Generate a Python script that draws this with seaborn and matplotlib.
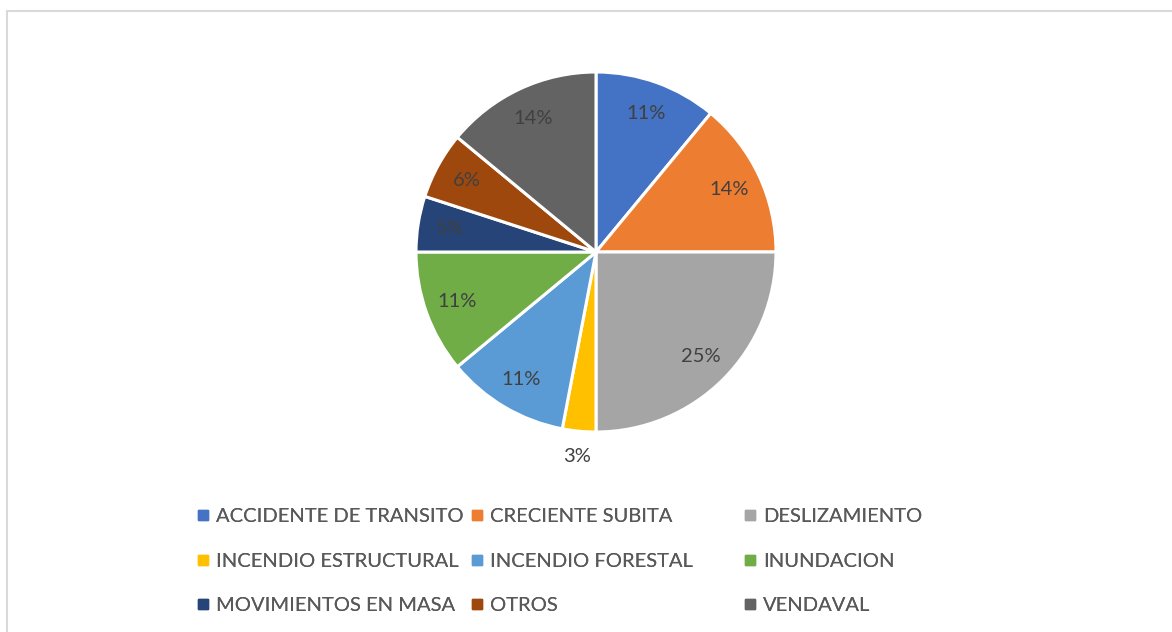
import matplotlib
matplotlib.use("Agg")
import matplotlib.pyplot as plt
import seaborn as sns
import numpy as np
from matplotlib.lines import Line2D
from matplotlib.patches import Rectangle

# Data (percent shares, clockwise from 12 o'clock)
categories = ["ACCIDENTE DE TRANSITO", "CRECIENTE SUBITA", "DESLIZAMIENTO",
              "INCENDIO ESTRUCTURAL", "INCENDIO FORESTAL", "INUNDACION",
              "MOVIMIENTOS EN MASA", "OTROS", "VENDAVAL"]
shares = [11, 14, 25, 3, 11, 11, 5, 6, 14]
colors = ["#4472C4", "#ED7D31", "#A5A5A5", "#FFC000", "#5B9BD5",
          "#70AD47", "#264478", "#9E480E", "#636363"]

sns.set_theme(style="white")
plt.rcParams['font.family'] = ['Lato', 'DejaVu Sans']
palette = sns.color_palette(colors)

W, H = 1172, 632
fig = plt.figure(figsize=(W / 100, H / 100), dpi=100)

# chart frame (only left and top visible in the crop)
fig.patches.append(Rectangle((6.5 / W, -0.1), 1.2, (H - 10.5) / H + 0.1,
                             transform=fig.transFigure, fill=False,
                             edgecolor="#D9D9D9", linewidth=1.5))

# pie axes: center (596, 252), radius 180 px
cx, cy, r = 596, 252, 180
ax = fig.add_axes([(cx - r) / W, (H - cy - r) / H, 2 * r / W, 2 * r / H])
wedges, texts, autotexts = ax.pie(
    shares, colors=palette, startangle=90, counterclock=False,
    autopct="%1.0f%%", pctdistance=0.82, radius=1,
    wedgeprops=dict(edgecolor="white", linewidth=2.2),
    textprops=dict(color="#404040", fontsize=14.5))
ax.set_xlim(-1, 1)
ax.set_ylim(-1, 1)
ax.set_aspect("equal")

# move labels of tiny slices outside the pie
for w, t, v in zip(wedges, autotexts, shares):
    if v < 4:
        ang = np.deg2rad((w.theta1 + w.theta2) / 2)
        t.set_position((1.14 * np.cos(ang), 1.14 * np.sin(ang)))

# legend: three equal-width columns, filled row by row
handles = [Line2D([], [], marker="s", linestyle="none", markersize=6.5,
                  markerfacecolor=c, markeredgecolor=c) for c in colors]
col_x = [196, 470, 743]
for j in range(3):
    idx = [j, j + 3, j + 6]
    leg = fig.legend([handles[i] for i in idx], [categories[i] for i in idx],
                     loc="upper left", bbox_to_anchor=(col_x[j] / W, (H - 508) / H),
                     frameon=False, fontsize=14.5, labelcolor="#595959",
                     handlelength=0.7, handletextpad=0.3, labelspacing=1.37,
                     borderpad=0, borderaxespad=0)
    fig.add_artist(leg)

fig.savefig("out.png", dpi=100, facecolor="white")
